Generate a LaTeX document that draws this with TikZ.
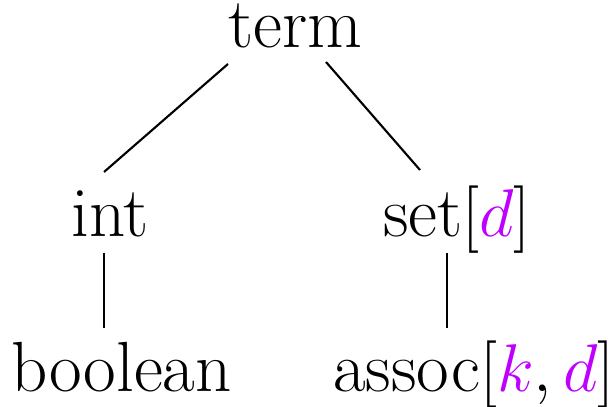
\documentclass[tikz,border=0pt]{standalone}
\usetikzlibrary{calc}
\definecolor{vio}{RGB}{191,0,255}
\begin{document}
\begin{tikzpicture}[x=0.307pt,y=-0.307pt,
  lbl/.style={anchor=base,inner sep=0pt,font=\fontsize{21.8}{26}\selectfont},
  edge/.style={draw=black,line width=0.65pt}]
\useasboundingbox (0,0) rectangle (616,407);
\node[lbl] (term) at (295.5,48) {term};
\node[lbl] (int) at (110,237) {int};
\node[lbl] (set) at (457,237) {set$[\textcolor{vio}{d}]$};
\node[lbl] (bool) at (121.5,392) {boolean};
\node[lbl] (assoc) at (474,392) {assoc$[\textcolor{vio}{k},\textcolor{vio}{d}]$};
\draw[edge] ($(term.base)+(-67.5,16)$) -- ($(int.base)+(-6,-65)$);
\draw[edge] ($(term.base)+(30.5,14)$) -- ($(set.base)+(-37,-67)$);
\draw[edge] ($(int.base)+(-6,16)$) -- ($(bool.base)+(-17.5,-64)$);
\draw[edge] ($(set.base)+(-10,16)$) -- ($(assoc.base)+(-27,-64)$);
\end{tikzpicture}
\end{document}
